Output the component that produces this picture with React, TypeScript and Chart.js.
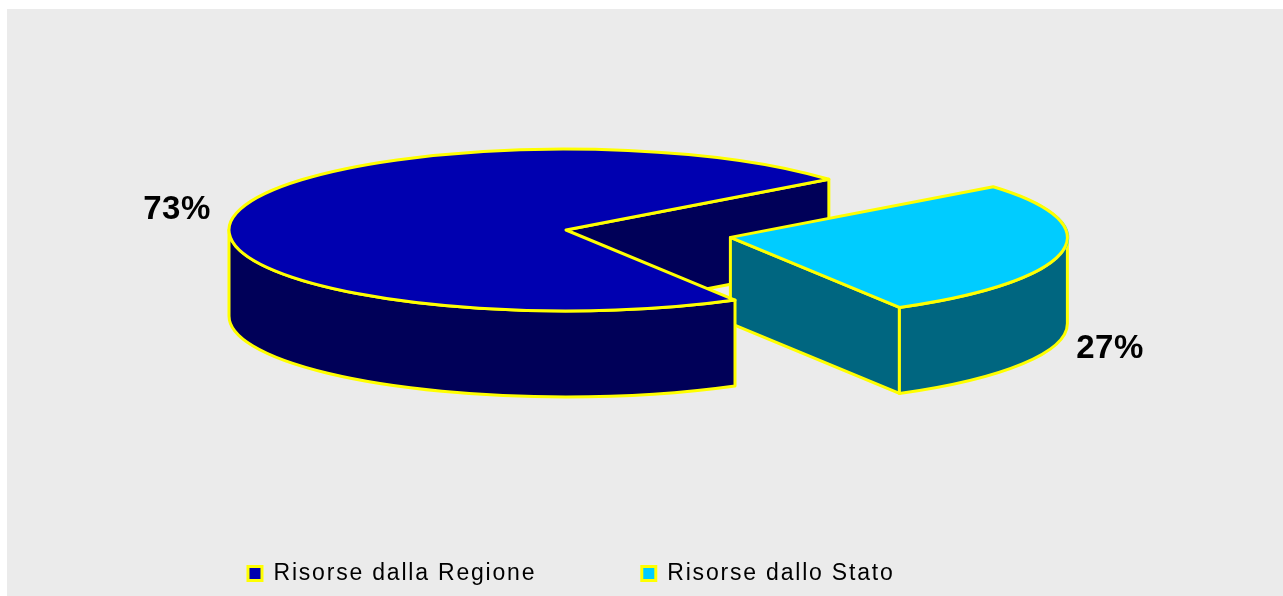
import React, { useEffect, useRef } from "react";
import { Chart, registerables } from "chart.js";

Chart.register(...registerables);

const categories = ["Risorse dalla Regione", "Risorse dallo Stato"];
const shares = [72.6, 27.4];
const topColors = ["#0000B0", "#00CCFF"];
const sideColors = ["#000058", "#006680"];
const outline = "#FFFF00";

const radius = 200;
const centerX = 559;
const centerY = 221;
const scaleX = 337 / radius;
const scaleY = 81 / radius;
const depth = 86;
const sliceOffsets = [0, 397];
const labelPos = [
  { x: 170, y: 201 },
  { x: 1103, y: 339.5 },
];

function geom(arc: any) {
  const off = (arc.options.offset || 0) / 4;
  const mid = (arc.startAngle + arc.endAngle) / 2;
  const ox = centerX + Math.cos(mid) * off * scaleX;
  const oy = centerY + Math.sin(mid) * off * scaleY;
  const rx = arc.outerRadius * scaleX;
  const ry = arc.outerRadius * scaleY;
  return { ox, oy, rx, ry, start: arc.startAngle, end: arc.endAngle };
}

function paint(ctx: CanvasRenderingContext2D, fill: string) {
  ctx.fillStyle = fill;
  ctx.fill();
  ctx.strokeStyle = outline;
  ctx.lineWidth = 3;
  ctx.lineJoin = "round";
  ctx.stroke();
}

const pie3d = {
  id: "pie3d",
  beforeUpdate(chart: any) {
    chart.ctx.letterSpacing = "1.8px";
  },
  afterLayout(chart: any) {
    const legend = chart.legend;
    const h = legend.height;
    legend.top = 553 - legend.options.labels.padding;
    legend.bottom = legend.top + h;
  },
  beforeDatasetsDraw(chart: any) {
    const ctx: CanvasRenderingContext2D = chart.ctx;
    const arcs = chart.getDatasetMeta(0).data;
    // flat faces cut through the pie
    arcs.forEach((arc: any, i: number) => {
      const g = geom(arc);
      const faces = [];
      if (Math.cos(g.end) > 0) faces.push(g.end);
      if (Math.cos(g.start) < 0) faces.push(g.start);
      faces.forEach((a) => {
        const px = g.ox + Math.cos(a) * g.rx;
        const py = g.oy + Math.sin(a) * g.ry;
        ctx.beginPath();
        ctx.moveTo(g.ox, g.oy);
        ctx.lineTo(px, py);
        ctx.lineTo(px, py + depth);
        ctx.lineTo(g.ox, g.oy + depth);
        ctx.closePath();
        paint(ctx, sideColors[i]);
      });
    });
    // rim, front half only
    for (let i = arcs.length - 1; i >= 0; i--) {
      const g = geom(arcs[i]);
      for (let k = -1; k <= 2; k++) {
        const a0 = Math.max(g.start, 2 * k * Math.PI);
        const a1 = Math.min(g.end, 2 * k * Math.PI + Math.PI);
        if (a1 <= a0) continue;
        ctx.beginPath();
        ctx.ellipse(g.ox, g.oy, g.rx, g.ry, 0, a0, a1);
        ctx.ellipse(g.ox, g.oy + depth, g.rx, g.ry, 0, a1, a0, true);
        ctx.closePath();
        paint(ctx, sideColors[i]);
      }
    }
    ctx.save();
    const first = arcs[0];
    ctx.translate(centerX, centerY);
    ctx.scale(scaleX, scaleY);
    ctx.translate(-first.x, -first.y);
  },
  afterDatasetsDraw(chart: any) {
    const ctx: CanvasRenderingContext2D = chart.ctx;
    ctx.restore();
    const arcs = chart.getDatasetMeta(0).data;
    arcs.forEach((arc: any) => {
      const g = geom(arc);
      ctx.beginPath();
      ctx.moveTo(g.ox, g.oy);
      ctx.ellipse(g.ox, g.oy, g.rx, g.ry, 0, g.start, g.end);
      ctx.closePath();
      ctx.strokeStyle = outline;
      ctx.lineWidth = 3;
      ctx.lineJoin = "round";
      ctx.stroke();
    });
    ctx.save();
    (ctx as any).letterSpacing = "0.5px";
    ctx.font = "bold 33px 'Liberation Sans'";
    ctx.fillStyle = "#000000";
    ctx.textAlign = "center";
    ctx.textBaseline = "middle";
    shares.forEach((v, i) => {
      ctx.fillText(`${Math.round(v)}%`, labelPos[i].x, labelPos[i].y);
    });
    ctx.restore();
  },
};

export default function App() {
  const ref = useRef<HTMLCanvasElement>(null);
  useEffect(() => {
    const chart = new Chart(ref.current!, {
      type: "pie",
      data: {
        labels: categories,
        datasets: [
          {
            data: shares,
            backgroundColor: topColors,
            borderWidth: 0,
            offset: sliceOffsets,
            clip: false,
          } as any,
        ],
      },
      options: {
        responsive: false,
        animation: false,
        events: [],
        rotation: 149.9,
        radius,
        layout: { padding: { right: 147.5 } },
        plugins: {
          tooltip: { enabled: false },
          title: { display: false },
          legend: {
            display: true,
            position: "bottom",
            labels: {
              boxWidth: 14,
              boxHeight: 14,
              padding: 105.5,
              color: "#111111",
              font: { family: "'Liberation Sans'", size: 23 },
              generateLabels: () =>
                categories.map((text, i) => ({
                  text,
                  fillStyle: topColors[i],
                  strokeStyle: outline,
                  lineWidth: 3,
                  hidden: false,
                  index: i,
                })),
            },
          },
        },
      },
      plugins: [pie3d],
    } as any);
    return () => chart.destroy();
  }, []);
  return (
    <canvas
      ref={ref}
      width={1276}
      height={587}
      style={{ position: "absolute", left: 7, top: 9, background: "#EBEBEB", display: "block" }}
    />
  );
}
